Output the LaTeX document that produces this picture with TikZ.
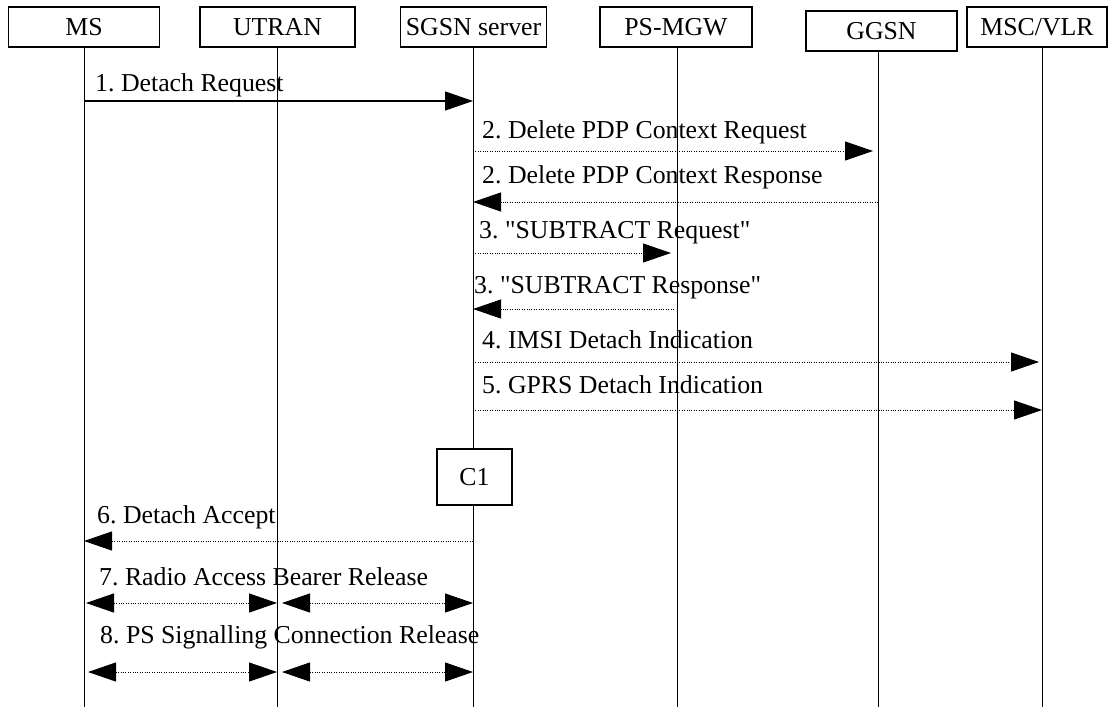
\documentclass[tikz,border=0pt]{standalone}
\usepackage{fontspec}
\setmainfont{Liberation Serif}
\usetikzlibrary{arrows.meta}
\frenchspacing

\tikzset{
  entity/.style={draw, line width=1.3pt, fill=white, minimum height=40pt, inner sep=0pt},
  life/.style={line width=0.9pt},
  lbl/.style={anchor=base west, inner sep=0pt},
  msg/.style={-{Triangle[length=28pt,width=19pt]}, line width=1.2pt},
  dmsg/.style={msg, line width=1pt, dash pattern=on 1pt off 1.4pt},
  bmsg/.style={{Triangle[length=28pt,width=19pt]}-{Triangle[length=28pt,width=19pt]}, line width=1pt, dash pattern=on 1pt off 1.4pt}
}

\begin{document}
\begin{tikzpicture}[x=1pt, y=-1pt, font=\fontsize{25.8}{31}\selectfont]
\useasboundingbox (0,0) rectangle (1110,709);

% entities
\node[entity, minimum width=151pt] (ms) at (84,27) {MS};
\node[entity, minimum width=155pt] (utran) at (277.5,27) {UTRAN};
\node[entity, minimum width=146pt] (sgsn) at (473.5,27) {SGSN server};
\node[entity, minimum width=152pt] (mgw) at (676,27) {PS-MGW};
\node[entity, minimum width=151pt] (ggsn) at (881.5,31) {GGSN};
\node[entity, minimum width=140pt] (msc) at (1037,27) {MSC/VLR};

% lifelines
\foreach \n/\x in {ms/84, utran/277, sgsn/473, mgw/677, ggsn/878, msc/1042}{
  \coordinate (l\n) at (\x,0);
  \draw[life] (l\n |- \n.south) -- (l\n |- 0,707);
}

% message levels
\foreach \i/\y in {1/101, 2/151, 3/202, 4/253, 5/309, 6/362, 7/410, 8/541, 9/603, 10/672}
  \coordinate (y\i) at (0,\y);

\node[entity, minimum width=75pt, minimum height=56pt] (c1) at (474.5,477) {C1};

% labels
\node[lbl] (t1) at (95,91) {1. Detach Request};
\node[lbl] (t2) at (482,138) {2. Delete PDP Context Request};
\node[lbl] (t3) at (482,183) {2. Delete PDP Context Response};
\node[lbl] (t4) at (479,238) {3. \textquotedbl SUBTRACT Request\textquotedbl};
\node[lbl] (t5) at (474,293) {3. \textquotedbl SUBTRACT Response\textquotedbl};
\node[lbl] (t6) at (482,348) {4. IMSI Detach Indication};
\node[lbl] (t7) at (482,393) {5. GPRS Detach Indication};
\node[lbl] (t8) at (97,523) {6. Detach Accept};
\node[lbl] (t9) at (99,585) {7. Radio Access Bearer Release};
\node[lbl] (t10) at (100,643) {8. PS Signalling Connection Release};

% messages
\draw[msg] (lms |- y1) -- (lsgsn |- y1);
\draw[dmsg] (lsgsn |- y2) -- ([xshift=-5pt]lggsn |- y2);
\draw[dmsg] (lggsn |- y3) -- (lsgsn |- y3);
\draw[dmsg] (lsgsn |- y4) -- ([xshift=-6pt]lmgw |- y4);
\draw[dmsg] ([xshift=-3pt]lmgw |- y5) -- (lsgsn |- y5);
\draw[dmsg] (lsgsn |- y6) -- ([xshift=-3pt]lmsc |- y6);
\draw[dmsg] (lsgsn |- y7) -- (lmsc |- y7);
\draw[dmsg] (lsgsn |- y8) -- (lms |- y8);
\draw[bmsg] ([xshift=2pt]lms |- y9) -- (lutran |- y9);
\draw[bmsg] ([xshift=5pt]lutran |- y9) -- (lsgsn |- y9);
\draw[bmsg] ([xshift=4pt]lms |- y10) -- (lutran |- y10);
\draw[bmsg] ([xshift=5pt]lutran |- y10) -- (lsgsn |- y10);

\end{tikzpicture}
\end{document}
